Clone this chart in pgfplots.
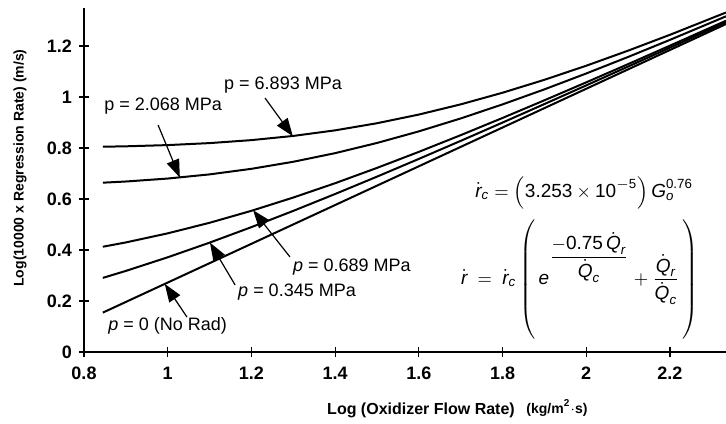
\documentclass[border=0pt]{standalone}
\usepackage{fontspec}
\setmainfont{Liberation Sans}
\usepackage{amsmath}
\usepackage{pgfplots}
\usepackage{pgfplotstable}
\pgfplotsset{compat=1.18}
\usetikzlibrary{arrows.meta}

\pgfplotstableread{
x      A      B      C      D      E
0.845  0.8050 0.6640 0.4128 0.2907 0.1545
0.9    0.8066 0.6686 0.4297 0.3180 0.1963
1.0    0.8114 0.6802 0.4653 0.3714 0.2723
1.1    0.8192 0.6965 0.5067 0.4288 0.3483
1.2    0.8309 0.7183 0.5537 0.4897 0.4243
1.3    0.8473 0.7460 0.6057 0.5534 0.5003
1.4    0.8692 0.7798 0.6619 0.6196 0.5763
1.5    0.8971 0.8197 0.7219 0.6876 0.6523
1.6    0.9311 0.8652 0.7848 0.7572 0.7283
1.7    0.9711 0.9159 0.8503 0.8279 0.8043
1.8    1.0167 0.9710 0.9178 0.8997 0.8803
1.9    1.0674 1.0299 0.9870 0.9723 0.9563
2.0    1.1226 1.0922 1.0574 1.0455 1.0323
2.1    1.1817 1.1570 1.1289 1.1193 1.1083
2.2    1.2439 1.2240 1.2013 1.1934 1.1843
2.334  1.3314 1.3164 1.2992 1.2932 1.2861
}\curves

\newcommand{\vi}[1]{\textit{#1}}
\newcommand{\vu}[1]{\textup{#1}}

\begin{document}
\begin{tikzpicture}
\path[use as bounding box] (0pt,0pt) rectangle (363pt,211.5pt);
\begin{axis}[
  at={(42pt,35.5pt)}, anchor=south west,
  scale only axis, width=321pt, height=172pt,
  xmin=0.8, xmax=2.334, ymin=0, ymax=1.349,
  axis lines*=left,
  axis line style={line width=0.8pt},
  xtick={0.8,1,1.2,1.4,1.6,1.8,2,2.2},
  ytick={0,0.2,0.4,0.6,0.8,1,1.2},
  tick align=center, major tick length=5pt,
  tick style={line width=0.6pt, black},
  ticklabel style={font=\fontsize{9}{10}\selectfont\bfseries},
  xticklabel style={yshift=-1.5pt},
  /pgf/number format/assume math mode=true,
  clip=false,
]
\addplot[black, line width=1pt, no marks] table[x=x,y=A] {\curves};
\addplot[black, line width=1pt, no marks] table[x=x,y=B] {\curves};
\addplot[black, line width=1pt, no marks] table[x=x,y=C] {\curves};
\addplot[black, line width=1pt, no marks] table[x=x,y=D] {\curves};
\addplot[black, line width=1pt, no marks] table[x=x,y=E] {\curves};

\tikzset{ann/.style={font=\fontsize{9}{10}\selectfont, inner sep=0pt},
         arr/.style={line width=0.6pt, -{Triangle[length=9pt,width=6.5pt]}}}
\node[ann] at (axis cs:1.2755,1.047) {p = 6.893 MPa};
\draw[arr] (axis cs:1.2325,0.996) -- (axis cs:1.299,0.846);
\node[ann] at (axis cs:0.989,0.965) {p = 2.068 MPa};
\draw[arr] (axis cs:0.977,0.890) -- (axis cs:1.029,0.684);
\node[ann] at (axis cs:1.440,0.333) {\textit{p} = 0.689 MPa};
\draw[arr] (axis cs:1.292,0.373) -- (axis cs:1.204,0.556);
\node[ann] at (axis cs:1.309,0.235) {\textit{p} = 0.345 MPa};
\draw[arr] (axis cs:1.161,0.263) -- (axis cs:1.101,0.429);
\node[ann] at (axis cs:1.0,0.102) {\textit{p} = 0 (No Rad)};
\draw[arr] (axis cs:1.046,0.137) -- (axis cs:0.993,0.267);

\node[font=\fontsize{9.5}{11}\selectfont, inner sep=0pt] at (axis cs:1.995,0.625)
  {$\dot{\vi{r}}_{\vi{c}} = \left(\vu{3.253}\times\vu{10}^{-\vu{5}}\right)\vi{G}_{\vi{o}}^{\vu{0.76}}$};
\node[font=\fontsize{9.5}{11}\selectfont, inner sep=0pt] at (axis cs:1.985,0.286)
  {$\displaystyle \dot{\vi{r}} \;=\; \dot{\vi{r}}_{\vi{c}}\left(\rule[-29pt]{0pt}{63pt}\,\vi{e}^{\displaystyle\frac{-\vu{0.75}\,\dot{\vi{Q}}_{\vi{r}}}{\dot{\vi{Q}}_{\vi{c}}}} + \frac{\dot{\vi{Q}}_{\vi{r}}}{\dot{\vi{Q}}_{\vi{c}}}\,\right)$};
\end{axis}
\node[rotate=90, font=\fontsize{7}{8}\selectfont\bfseries] at (10pt,127.5pt) {Log(10000 x Regression Rate) (m/s)};
\node[font=\fontsize{8}{9}\selectfont\bfseries, inner sep=0pt] at (210.5pt,6.5pt) {Log (Oxidizer Flow Rate)};
\node[font=\fontsize{7}{8}\selectfont\bfseries, inner sep=0pt] at (278.5pt,7.5pt) {(kg/m\textsuperscript{2}$\cdot$s)};
\end{tikzpicture}
\end{document}
